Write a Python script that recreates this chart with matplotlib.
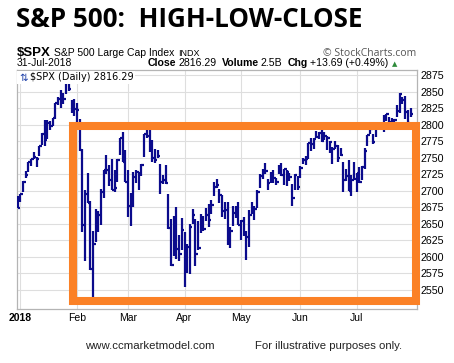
import matplotlib
matplotlib.use('Agg')
import matplotlib.pyplot as plt
from matplotlib.patches import Rectangle

# ---------------- data (S&P 500 daily High / Low / Close) ----------------
dates = [
    '2017-12-29',
    '2018-01-02', '2018-01-03', '2018-01-04', '2018-01-05', '2018-01-08', '2018-01-09', '2018-01-10',
    '2018-01-11', '2018-01-12', '2018-01-16', '2018-01-17', '2018-01-18', '2018-01-19', '2018-01-22',
    '2018-01-23', '2018-01-24', '2018-01-25', '2018-01-26', '2018-01-29', '2018-01-30', '2018-01-31',
    '2018-02-01', '2018-02-02', '2018-02-05', '2018-02-06', '2018-02-07', '2018-02-08', '2018-02-09',
    '2018-02-12', '2018-02-13', '2018-02-14', '2018-02-15', '2018-02-16', '2018-02-20', '2018-02-21',
    '2018-02-22', '2018-02-23', '2018-02-26', '2018-02-27', '2018-02-28',
    '2018-03-01', '2018-03-02', '2018-03-05', '2018-03-06', '2018-03-07', '2018-03-08', '2018-03-09',
    '2018-03-12', '2018-03-13', '2018-03-14', '2018-03-15', '2018-03-16', '2018-03-19', '2018-03-20',
    '2018-03-21', '2018-03-22', '2018-03-23', '2018-03-26', '2018-03-27', '2018-03-28', '2018-03-29',
    '2018-04-02', '2018-04-03', '2018-04-04', '2018-04-05', '2018-04-06', '2018-04-09', '2018-04-10',
    '2018-04-11', '2018-04-12', '2018-04-13', '2018-04-16', '2018-04-17', '2018-04-18', '2018-04-19',
    '2018-04-20', '2018-04-23', '2018-04-24', '2018-04-25', '2018-04-26', '2018-04-27', '2018-04-30',
    '2018-05-01', '2018-05-02', '2018-05-03', '2018-05-04', '2018-05-07', '2018-05-08', '2018-05-09',
    '2018-05-10', '2018-05-11', '2018-05-14', '2018-05-15', '2018-05-16', '2018-05-17', '2018-05-18',
    '2018-05-21', '2018-05-22', '2018-05-23', '2018-05-24', '2018-05-25', '2018-05-29', '2018-05-30',
    '2018-05-31',
    '2018-06-01', '2018-06-04', '2018-06-05', '2018-06-06', '2018-06-07', '2018-06-08', '2018-06-11',
    '2018-06-12', '2018-06-13', '2018-06-14', '2018-06-15', '2018-06-18', '2018-06-19', '2018-06-20',
    '2018-06-21', '2018-06-22', '2018-06-25', '2018-06-26', '2018-06-27', '2018-06-28', '2018-06-29',
    '2018-07-02', '2018-07-03', '2018-07-05', '2018-07-06', '2018-07-09', '2018-07-10', '2018-07-11',
    '2018-07-12', '2018-07-13', '2018-07-16', '2018-07-17', '2018-07-18', '2018-07-19', '2018-07-20',
    '2018-07-23', '2018-07-24', '2018-07-25', '2018-07-26', '2018-07-27', '2018-07-30', '2018-07-31',
]

highs = [
    2692.12,
    2695.89, 2714.37, 2729.29, 2743.45, 2748.51, 2759.14, 2750.80,
    2767.56, 2787.85, 2807.54, 2807.04, 2805.83, 2810.33, 2833.03,
    2842.24, 2852.97, 2848.56, 2872.87, 2870.62, 2837.75, 2839.26,
    2832.54, 2808.92, 2763.39, 2701.04, 2727.67, 2685.27, 2638.67,
    2672.61, 2668.84, 2702.10, 2731.51, 2754.42, 2739.14, 2747.75,
    2731.26, 2747.76, 2779.60, 2789.15, 2761.52,
    2730.89, 2696.25, 2728.09, 2732.08, 2727.92, 2740.45, 2786.57,
    2796.98, 2801.90, 2777.11, 2763.03, 2761.85, 2741.38, 2724.22,
    2739.14, 2695.68, 2657.67, 2661.36, 2674.78, 2632.65, 2659.07,
    2638.30, 2619.14, 2649.86, 2672.08, 2656.88, 2653.55, 2665.45,
    2661.43, 2674.72, 2680.26, 2686.49, 2713.34, 2717.49, 2702.84,
    2693.94, 2682.86, 2683.55, 2645.84, 2676.48, 2677.35, 2682.92,
    2655.27, 2660.87, 2639.62, 2670.93, 2683.35, 2676.34, 2701.27,
    2726.11, 2732.86, 2742.10, 2718.59, 2727.76, 2731.96, 2719.50,
    2739.19, 2742.24, 2733.29, 2731.97, 2727.36, 2710.67, 2725.83,
    2722.50,
    2736.93, 2749.16, 2752.61, 2772.39, 2779.90, 2779.39, 2790.21,
    2789.80, 2791.47, 2789.06, 2782.81, 2774.99, 2766.82, 2774.86,
    2769.28, 2764.17, 2742.94, 2732.91, 2746.09, 2724.34, 2743.26,
    2727.26, 2736.58, 2737.83, 2764.41, 2784.65, 2795.58, 2785.91,
    2799.22, 2804.53, 2801.19, 2814.19, 2816.76, 2812.05, 2809.70,
    2808.61, 2829.99, 2848.03, 2842.43, 2843.17, 2821.74, 2825.83,
]

lows = [
    2673.61,
    2682.36, 2697.77, 2719.07, 2727.92, 2737.60, 2747.86, 2736.06,
    2752.78, 2769.64, 2768.64, 2778.38, 2792.56, 2798.08, 2808.12,
    2830.59, 2824.81, 2830.94, 2846.18, 2851.48, 2818.27, 2813.04,
    2803.98, 2759.97, 2638.17, 2593.07, 2681.33, 2580.56, 2532.69,
    2622.45, 2637.08, 2648.87, 2689.82, 2725.11, 2706.76, 2701.29,
    2697.77, 2713.74, 2753.78, 2744.22, 2713.54,
    2659.65, 2647.32, 2675.75, 2711.26, 2701.02, 2721.89, 2751.54,
    2779.26, 2758.68, 2744.38, 2741.47, 2749.97, 2694.59, 2710.05,
    2709.79, 2641.59, 2585.89, 2601.81, 2596.12, 2593.06, 2609.72,
    2553.80, 2575.49, 2573.61, 2649.58, 2586.27, 2610.79, 2635.78,
    2639.25, 2653.83, 2645.05, 2665.16, 2692.05, 2703.63, 2681.90,
    2660.61, 2657.99, 2617.32, 2612.67, 2647.16, 2659.01, 2648.04,
    2625.41, 2631.70, 2594.62, 2615.32, 2664.70, 2655.20, 2674.14,
    2704.54, 2717.45, 2725.47, 2701.91, 2712.17, 2711.36, 2709.18,
    2725.70, 2721.88, 2709.54, 2707.38, 2714.99, 2676.81, 2700.68,
    2700.68,
    2718.70, 2740.54, 2739.51, 2748.46, 2760.16, 2763.59, 2780.17,
    2778.78, 2774.65, 2776.52, 2761.73, 2757.12, 2740.99, 2763.91,
    2744.39, 2752.68, 2698.67, 2715.60, 2699.38, 2691.99, 2718.03,
    2698.95, 2711.16, 2716.02, 2733.52, 2768.51, 2786.24, 2770.77,
    2781.53, 2791.69, 2793.39, 2789.24, 2805.89, 2799.77, 2800.01,
    2795.14, 2811.12, 2817.73, 2830.78, 2808.34, 2799.87, 2811.16,
]

closes = [
    2673.61,
    2695.81, 2713.06, 2723.99, 2743.15, 2747.71, 2751.29, 2748.23,
    2767.56, 2786.24, 2776.42, 2802.56, 2798.03, 2810.30, 2832.97,
    2839.13, 2837.54, 2839.25, 2872.87, 2853.53, 2822.43, 2823.81,
    2821.98, 2762.13, 2648.94, 2695.14, 2681.66, 2581.00, 2619.55,
    2656.00, 2662.94, 2698.63, 2731.20, 2732.22, 2716.26, 2701.33,
    2703.96, 2747.30, 2779.60, 2744.28, 2713.83,
    2677.67, 2691.25, 2720.94, 2728.12, 2726.80, 2738.97, 2786.57,
    2783.02, 2765.31, 2749.48, 2747.33, 2752.01, 2712.92, 2716.94,
    2711.93, 2643.69, 2588.26, 2658.55, 2612.62, 2605.00, 2640.87,
    2581.88, 2614.45, 2644.69, 2662.84, 2604.47, 2613.16, 2656.87,
    2642.19, 2663.99, 2656.30, 2677.84, 2706.39, 2708.64, 2693.13,
    2670.14, 2670.29, 2634.56, 2639.40, 2666.94, 2669.91, 2648.05,
    2654.80, 2635.67, 2629.73, 2663.42, 2672.63, 2671.92, 2697.79,
    2723.07, 2727.72, 2730.13, 2711.45, 2722.46, 2720.13, 2712.97,
    2733.01, 2724.44, 2733.29, 2727.76, 2721.33, 2689.86, 2724.01,
    2705.27,
    2734.62, 2746.87, 2748.80, 2772.35, 2770.37, 2779.03, 2782.00,
    2786.85, 2775.63, 2782.49, 2779.66, 2773.75, 2762.59, 2767.32,
    2749.76, 2754.88, 2717.07, 2723.06, 2699.63, 2716.31, 2718.37,
    2726.71, 2713.22, 2736.61, 2759.82, 2784.17, 2793.84, 2774.02,
    2798.29, 2801.31, 2798.43, 2809.55, 2815.62, 2804.49, 2801.83,
    2806.98, 2820.40, 2846.07, 2837.44, 2818.82, 2802.60, 2816.29,
]

month_labels = ['2018', 'Feb', 'Mar', 'Apr', 'May', 'Jun', 'Jul']
month_dates = ['2018-01-02', '2018-02-01', '2018-03-01', '2018-04-02',
               '2018-05-01', '2018-06-01', '2018-07-02']
y_ticks = [2550, 2575, 2600, 2625, 2650, 2675, 2700, 2725, 2750,
           2775, 2800, 2825, 2850, 2875]

title = 'S&P 500:  HIGH-LOW-CLOSE'
symbol = '$SPX'
name = 'S&P 500 Large Cap Index'
exchange = 'INDX'
date_label = '31-Jul-2018'
last_close = '2816.29'
volume = '2.5B'
change = '+13.69 (+0.49%)'

# ---------------- figure ----------------
W, H = 454, 363
DPI = 100
fig = plt.figure(figsize=(W / DPI, H / DPI), dpi=DPI)
fig.patch.set_facecolor('white')

def fx(px):
    return px / W

def fy(py):
    return 1 - py / H

ax_l, ax_r, ax_t, ax_b = 16.7, 416.7, 70.0, 309.0
ax = fig.add_axes([fx(ax_l), fy(ax_b), (ax_r - ax_l) / W, (ax_b - ax_t) / H])

navy = '#0b0b8c'
xs = list(range(len(dates)))
ax.vlines(xs, lows, highs, color=navy, lw=1.6, zorder=3)
ax.hlines(closes, [x for x in xs], [x + 0.95 for x in xs], color=navy, lw=1.6, zorder=3)

ax.set_xlim(-0.37, 148.3)
ax.set_ylim(2521, 2883)

tick_pos = [dates.index(d) for d in month_dates]
ax.set_xticks(tick_pos)
ax.set_xticklabels(month_labels, fontfamily='Liberation Sans', fontsize=7.5)
for lbl in ax.get_xticklabels():
    if lbl.get_text() == '2018':
        lbl.set_fontweight('bold')
ax.set_yticks(y_ticks)
ax.set_yticklabels([str(v) for v in y_ticks], fontfamily='Liberation Sans', fontsize=7.7)
ax.yaxis.tick_right()
ax.tick_params(axis='y', length=0, pad=2.5)
ax.tick_params(axis='x', length=0, pad=3)
ax.grid(True, color='#dedede', lw=0.8, zorder=0)
ax.set_axisbelow(True)
for s in ax.spines.values():
    s.set_color('#b4b4b4')
    s.set_linewidth(0.9)

# ---------------- texts ----------------
renderer = fig.canvas.get_renderer()

tt = fig.text(fx(16), fy(26.7), title, fontsize=18.5, fontweight='bold',
              family='Open Sans', va='baseline', ha='left', color='black')
# fit title width to the reference span (about 347 px)
tw = tt.get_window_extent(renderer).width
tt.set_fontsize(18.5 * 347.0 / tw)

def seq(x0, y, parts):
    x = x0
    for s, kw, gap in parts:
        t = fig.text(fx(x), fy(y), s, va='baseline', ha='left', **kw)
        bb = t.get_window_extent(renderer)
        x = bb.x1 + gap
    return x

base = dict(family='Liberation Sans', color='black')
seq(17, 56, [
    (symbol, dict(base, fontsize=9.5, fontweight='bold'), 3),
    (name, dict(base, fontsize=7.5), 4),
    (exchange, dict(base, fontsize=6.5), 0),
])
fig.text(fx(416), fy(56), '\u00a9 StockCharts.com', fontsize=7.5, family='Open Sans',
         color='#555555', ha='right', va='baseline')

fig.text(fx(17), fy(66.5), date_label, fontsize=7.5, va='baseline', **base)
xe = seq(148, 66.5, [
    ('Close', dict(base, fontsize=7.6, fontweight='bold'), 2),
    (last_close, dict(base, fontsize=7.6), 5),
    ('Volume', dict(base, fontsize=7.6, fontweight='bold'), 2),
    (volume, dict(base, fontsize=7.6), 5),
    ('Chg', dict(base, fontsize=7.6, fontweight='bold'), 2),
    (change, dict(base, fontsize=7.6), 3),
])
fig.text(fx(xe + 1), fy(66), '\u25b2', fontsize=5, color='#2e8b3a', va='baseline', ha='left')

# in-chart legend label with white background
fig.text(fx(19), fy(80.5), '\u21c5', fontsize=7.5, color='#1d3fa8', family='DejaVu Sans',
         va='baseline', ha='left', zorder=5,
         bbox=dict(boxstyle='square,pad=0.15', fc='white', ec='none'))
fig.text(fx(30), fy(80.5), '$SPX (Daily) ' + last_close, fontsize=7, color='black',
         family='DejaVu Sans', va='baseline', ha='left', zorder=5,
         bbox=dict(boxstyle='square,pad=0.15', fc='white', ec='none'))

# footer
fig.text(fx(150), fy(349), 'www.ccmarketmodel.com', fontsize=8.2, family='Liberation Sans',
         color='#222222', ha='center', va='baseline')
fig.text(fx(329), fy(349), 'For illustrative purposes only.', fontsize=8.2,
         family='Liberation Sans', color='#222222', ha='center', va='baseline')

# orange highlight box
rl, rr, rt, rb = 72.8, 415.8, 126.2, 300.8
rect = Rectangle((fx(rl), fy(rb)), (rr - rl) / W, (rb - rt) / H, transform=fig.transFigure,
                 fill=False, ec='#fb8126', lw=5.8, joinstyle='miter', zorder=10)
fig.add_artist(rect)

fig.savefig('out.png', dpi=DPI, facecolor='white')
